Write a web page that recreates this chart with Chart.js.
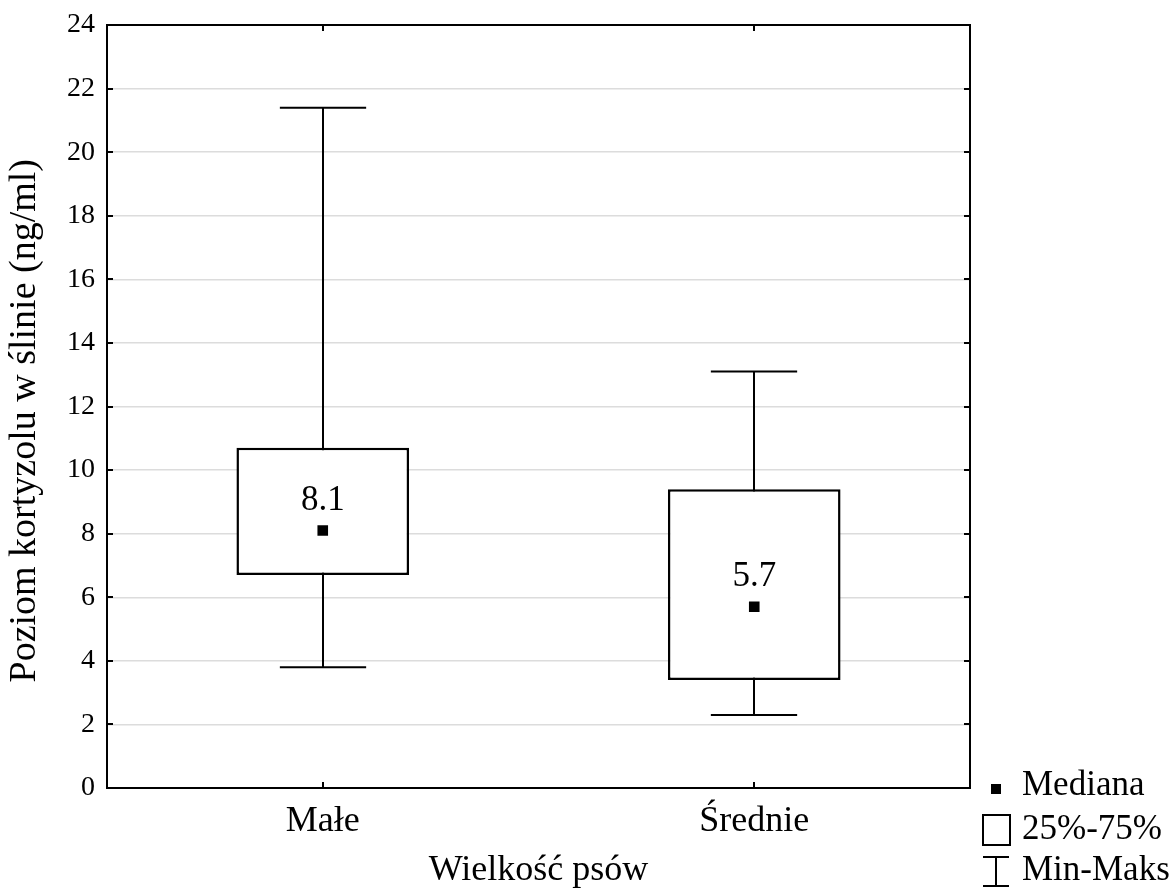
<!DOCTYPE html>
<html>
<head>
<meta charset="utf-8">
<script src="https://cdn.jsdelivr.net/npm/chart.js@4/dist/chart.umd.min.js"></script>
<style>
  html, body { margin: 0; padding: 0; background: #ffffff; }
  #wrap { width: 1176px; height: 892px; }
</style>
</head>
<body>
<div id="wrap"><canvas id="chart" width="1176" height="892"></canvas></div>
<script>
// Salivary cortisol by dog size: min, quartiles, median, max
const categories = ['Małe', 'Średnie'];
const minValues = [3.8, 2.3];
const q1Values = [6.7, 3.4];
const medianValues = [8.1, 5.7];
const q3Values = [10.7, 9.4];
const maxValues = [21.4, 13.1];
const yTickValues = [0, 2, 4, 6, 8, 10, 12, 14, 16, 18, 20, 22, 24];
const legendLabels = ['Mediana', '25%-75%', 'Min-Maks'];
const xTitle = 'Wielkość psów';
const yTitle = 'Poziom kortyzolu w ślinie (ng/ml)';

const SERIF = '"Liberation Serif", "Times New Roman", serif';
const BLACK = '#000000';

// whisker lines (min to max) with caps, drawn under the boxes
const whiskerPlugin = {
  id: 'whiskers',
  beforeDatasetsDraw(chart) {
    const { ctx, scales: { x, y } } = chart;
    const half = (x.getPixelForValue(1) - x.getPixelForValue(0)) * 0.1;
    ctx.save();
    ctx.strokeStyle = BLACK;
    ctx.lineWidth = 2;
    categories.forEach((c, i) => {
      const cx = Math.round(x.getPixelForValue(i));
      const yMin = y.getPixelForValue(minValues[i]);
      const yMax = y.getPixelForValue(maxValues[i]);
      ctx.beginPath();
      ctx.moveTo(cx, yMin); ctx.lineTo(cx, yMax);
      ctx.moveTo(cx - half, yMin); ctx.lineTo(cx + half, yMin);
      ctx.moveTo(cx - half, yMax); ctx.lineTo(cx + half, yMax);
      ctx.stroke();
    });
    ctx.restore();
  }
};

// median value labels above the markers
const medianLabelPlugin = {
  id: 'medianLabels',
  afterDatasetsDraw(chart) {
    const { ctx, scales: { x, y } } = chart;
    ctx.save();
    ctx.fillStyle = BLACK;
    ctx.font = '35px ' + SERIF;
    ctx.textAlign = 'center';
    ctx.textBaseline = 'middle';
    categories.forEach((c, i) => {
      ctx.fillText(medianValues[i].toFixed(1), x.getPixelForValue(i), y.getPixelForValue(medianValues[i]) - 30);
    });
    ctx.restore();
  }
};

// frame around the plot area with inward tick marks
const framePlugin = {
  id: 'frame',
  afterDraw(chart) {
    const { ctx, chartArea: a, scales: { x, y } } = chart;
    ctx.save();
    ctx.strokeStyle = BLACK;
    ctx.lineWidth = 2;
    ctx.strokeRect(a.left, a.top, a.right - a.left, a.bottom - a.top);
    ctx.beginPath();
    yTickValues.forEach(v => {
      const py = Math.round(y.getPixelForValue(v));
      ctx.moveTo(a.left, py); ctx.lineTo(a.left + 6, py);
      ctx.moveTo(a.right, py); ctx.lineTo(a.right - 6, py);
    });
    categories.forEach((c, i) => {
      const px = Math.round(x.getPixelForValue(i));
      ctx.moveTo(px, a.bottom); ctx.lineTo(px, a.bottom - 6);
      ctx.moveTo(px, a.top); ctx.lineTo(px, a.top + 6);
    });
    ctx.stroke();
    ctx.restore();
  }
};

// legend in the lower right corner
const legendPlugin = {
  id: 'boxLegend',
  afterDraw(chart) {
    const { ctx } = chart;
    const iconX = 996;
    const textX = 1022;
    const rows = [786, 830, 871];
    ctx.save();
    ctx.fillStyle = BLACK;
    ctx.strokeStyle = BLACK;
    ctx.font = '35px ' + SERIF;
    ctx.textAlign = 'left';
    ctx.textBaseline = 'middle';
    legendLabels.forEach((t, i) => ctx.fillText(t, textX, rows[i]));
    // median marker
    ctx.fillRect(iconX - 5, 784, 10, 10);
    // quartile box
    ctx.lineWidth = 2;
    ctx.strokeRect(iconX - 13, rows[1] - 15, 27, 30);
    // min-max whisker
    ctx.beginPath();
    ctx.moveTo(iconX - 13, 857); ctx.lineTo(iconX + 13, 857);
    ctx.moveTo(iconX, 857); ctx.lineTo(iconX, 886);
    ctx.moveTo(iconX - 13, 886); ctx.lineTo(iconX + 13, 886);
    ctx.stroke();
    ctx.restore();
  }
};

new Chart(document.getElementById('chart'), {
  data: {
    labels: categories,
    datasets: [
      {
        type: 'line',
        label: legendLabels[0],
        data: medianValues,
        showLine: false,
        pointStyle: 'rect',
        pointRadius: 7.5,
        pointHoverRadius: 7.5,
        pointBackgroundColor: BLACK,
        pointBorderWidth: 0,
        order: 0
      },
      {
        type: 'bar',
        label: legendLabels[1],
        data: categories.map((c, i) => [q1Values[i], q3Values[i]]),
        backgroundColor: '#ffffff',
        borderColor: BLACK,
        borderWidth: 2.5,
        borderSkipped: false,
        barPercentage: 0.4,
        categoryPercentage: 1,
        order: 1
      }
    ]
  },
  options: {
    responsive: false,
    animation: false,
    devicePixelRatio: 1,
    layout: { padding: { left: 0, right: 206, top: 25, bottom: 0 } },
    plugins: {
      legend: { display: false },
      tooltip: { enabled: false }
    },
    scales: {
      x: {
        type: 'category',
        offset: true,
        grid: { display: false, drawTicks: false },
        border: { display: false },
        ticks: { color: BLACK, font: { family: SERIF, size: 36 }, padding: 12 },
        title: { display: true, text: xTitle, color: BLACK, font: { family: SERIF, size: 36 }, padding: { top: 0, bottom: 0 } },
        afterFit(scale) { scale.height = 104; }
      },
      y: {
        min: 0,
        max: 24,
        afterBuildTicks(scale) { scale.ticks = yTickValues.map(v => ({ value: v })); },
        grid: { color: '#dcdcdc', lineWidth: 1.5, drawTicks: false },
        border: { display: false },
        ticks: { color: BLACK, font: { family: SERIF, size: 28 }, padding: 12 },
        title: { display: true, text: yTitle + '\u00a0\u00a0\u00a0', color: BLACK, font: { family: SERIF, size: 38 }, padding: { top: 2, bottom: 0 } },
        afterFit(scale) {
          scale.width = 107;
          scale.paddingTop = 0;
          scale.paddingBottom = 0;
        }
      }
    }
  },
  plugins: [whiskerPlugin, medianLabelPlugin, framePlugin, legendPlugin]
});
</script>
</body>
</html>
